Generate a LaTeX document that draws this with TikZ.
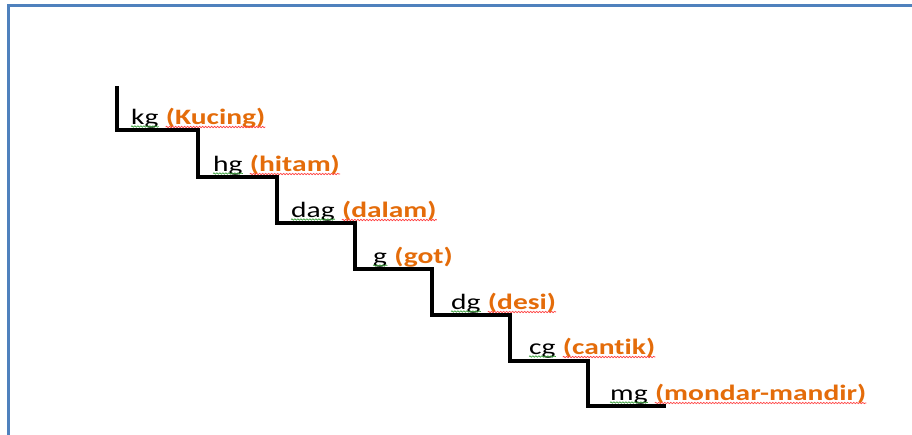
\documentclass[tikz,border=0pt]{standalone}
\usepackage{fontspec}
\usetikzlibrary{decorations.pathmorphing}
\newfontfamily\lblfont[FakeStretch=1.34, Ligatures=NoCommon]{Carlito}
\definecolor{frameblue}{HTML}{4F81BD}
\definecolor{lblorange}{HTML}{E46C0A}
\definecolor{spellgreen}{HTML}{3CA03C}
\definecolor{spellred}{HTML}{FF4040}
\tikzset{
  blk/.style={inner sep=0pt, anchor=base west, font=\lblfont\fontsize{22}{25}\selectfont, text=black},
  org/.style={inner sep=0pt, anchor=base west, font=\lblfont\fontsize{22}{25}\selectfont\bfseries, text=lblorange},
  wave/.style={line width=0.7pt, decorate, decoration={snake, amplitude=0.7pt, segment length=3pt}},
  gwave/.style={wave, spellgreen},
  rwave/.style={wave, spellred},
  stair/.style={line width=3.4pt, black, line join=miter},
}
\begin{document}
\begin{tikzpicture}[x=1pt,y=-1pt]
\useasboundingbox (0,0) rectangle (912,434);
\fill[white] (0,0) rectangle (912,434);
\draw[frameblue, line width=3pt] (8,440) -- (8,5) -- (920,5);
\draw[stair] (117,86) -- (117,130) -- (198,130) -- (198,177) -- (277,177) -- (277,223)
  -- (355,223) -- (355,269) -- (432,269) -- (432,315) -- (510,315) -- (510,361)
  -- (588,361) -- (588,406) -- (666,406);
% labels
\foreach \nm/\x/\y/\a/\b/\r in {l1/131/124/kg/(Kucing)/1, l2/213/171/hg/(hitam)/1, l3/291/217/dag/(dalam)/1,
  l4/373/263/g/(got)/0, l5/451/309/dg/(desi)/1, l6/529/354/cg/(cantik)/1, l7/610/400/mg/(mondar-mandir)/1}{
  \node[blk] (\nm a) at (\x,\y) {\a};
  \node[org] (\nm b) at ([xshift=7pt]\nm a.base east) {\b};
  \draw[gwave] ([yshift=-2.5pt]\nm a.base west) -- ([yshift=-2.5pt]\nm a.base east);
  \ifnum\r=1
    \draw[rwave] ([yshift=-3pt]\nm b.base west) -- ([yshift=-3pt]\nm b.base east);
  \fi
}
\end{tikzpicture}
\end{document}
